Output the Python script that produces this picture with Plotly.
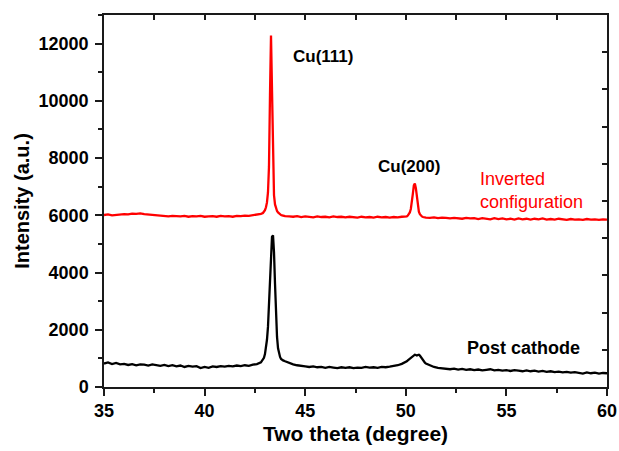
import plotly.graph_objects as go

# ---- data ----
two_theta = [
    35.0, 35.2, 35.4, 35.6, 35.8, 36.0, 36.2, 36.4, 36.6, 36.8,
    37.0, 37.2, 37.4, 37.6, 37.8, 38.0, 38.2, 38.4, 38.6, 38.8,
    39.0, 39.2, 39.4, 39.6, 39.8, 40.0, 40.2, 40.4, 40.6, 40.8,
    41.0, 41.2, 41.4, 41.6, 41.8, 42.0, 42.2, 42.4, 42.6, 42.8,
    42.9, 42.95, 43.0, 43.05, 43.1, 43.15, 43.2, 43.25, 43.3, 43.35,
    43.4, 43.45, 43.5, 43.55, 43.6, 43.65, 43.7, 43.75, 43.8, 43.85, 43.9,
    44.0, 44.2, 44.4, 44.6, 44.8, 45.0, 45.2, 45.4, 45.6, 45.8,
    46.0, 46.2, 46.4, 46.6, 46.8, 47.0, 47.2, 47.4, 47.6, 47.8,
    48.0, 48.2, 48.4, 48.6, 48.8, 49.0, 49.2, 49.4, 49.6, 49.8, 50.0,
    50.05, 50.1, 50.15, 50.2, 50.25, 50.3, 50.35, 50.4, 50.45, 50.5,
    50.55, 50.6, 50.65, 50.7, 50.75, 50.8, 50.85, 50.9, 50.95,
    51.0, 51.2, 51.4, 51.6, 51.8, 52.0, 52.2, 52.4, 52.6, 52.8,
    53.0, 53.2, 53.4, 53.6, 53.8, 54.0, 54.2, 54.4, 54.6, 54.8,
    55.0, 55.2, 55.4, 55.6, 55.8, 56.0, 56.2, 56.4, 56.6, 56.8,
    57.0, 57.2, 57.4, 57.6, 57.8, 58.0, 58.2, 58.4, 58.6, 58.8,
    59.0, 59.2, 59.4, 59.6, 59.8, 60.0,
]

inverted = [
    6010, 6030, 6000, 6020, 6030, 6040, 6030, 6060, 6050, 6070,
    6040, 6030, 6000, 5990, 5980, 5990, 5960, 5980, 5970, 5960,
    5980, 5950, 5970, 5960, 5980, 5950, 5960, 5970, 5950, 5980,
    5960, 5970, 5950, 5980, 5970, 5990, 5980, 6000, 6020, 6050,
    6080, 6120, 6180, 6280, 6450, 6800, 7700, 10200, 12280, 10400,
    7600, 6700, 6380, 6230, 6150, 6100, 6060, 6040, 6010, 6000, 5980,
    5970, 5960, 5950, 5970, 5940, 5960, 5950, 5930, 5960, 5940,
    5950, 5930, 5960, 5940, 5950, 5930, 5950, 5940, 5920, 5950,
    5930, 5940, 5920, 5950, 5930, 5940, 5920, 5940, 5930, 5950, 5950,
    5960, 5990, 6030, 6100, 6220, 6420, 6750, 7050, 7110, 6950,
    6600, 6300, 6130, 6040, 5990, 5960, 5940, 5930, 5920,
    5920, 5910, 5930, 5900, 5920, 5910, 5890, 5910, 5900, 5880,
    5910, 5890, 5900, 5870, 5900, 5880, 5860, 5900, 5870, 5890,
    5860, 5880, 5850, 5890, 5860, 5880, 5850, 5880, 5860, 5890,
    5850, 5870, 5850, 5880, 5860, 5840, 5870, 5850, 5860, 5840,
    5870, 5850, 5860, 5840, 5860, 5850,
]

post_cathode = [
    820, 860, 800, 840, 790, 810, 770, 800, 760, 790,
    780, 750, 790, 760, 740, 770, 730, 760, 720, 750,
    700, 740, 710, 730, 660, 700, 670, 720, 700, 730,
    710, 740, 720, 750, 730, 760, 740, 780, 800, 860,
    950, 1020, 1150, 1350, 1650, 2100, 2800, 3700, 4600, 5250,
    5300, 4700, 3600, 2500, 1750, 1350, 1150, 1050, 980, 950, 930,
    900, 840, 790, 760, 730, 720, 700, 720, 690, 700,
    670, 700, 680, 660, 690, 670, 690, 660, 680, 670,
    700, 680, 690, 670, 700, 690, 710, 730, 760, 810, 860,
    900, 930, 960, 1000, 1040, 1070, 1090, 1110, 1130, 1120,
    1100, 1120, 1130, 1100, 1040, 980, 930, 890, 850,
    820, 760, 700, 670, 650, 640, 620, 640, 610, 630,
    600, 620, 590, 610, 580, 600, 620, 580, 600, 570,
    590, 560, 590, 570, 550, 580, 550, 570, 540, 560,
    530, 550, 520, 540, 510, 530, 500, 520, 490, 470,
    510, 480, 500, 470, 490, 480,
]

assert len(two_theta) == len(inverted) == len(post_cathode), (
    len(two_theta), len(inverted), len(post_cathode))

x_tick_vals = [35, 40, 45, 50, 55, 60]
y_tick_vals = [0, 2000, 4000, 6000, 8000, 10000, 12000]
y_tick_text = ["0", "2000", "4000", "6000", "8000", "10000", "12000"]
x_range = [35, 60]
y_range = [0, 13000]

FONT = "Liberation Sans, Arial, sans-serif"
AX = "#1a1a1a"

fig = go.Figure()
fig.add_trace(go.Scatter(x=two_theta, y=post_cathode, mode="lines",
                         line=dict(color="black", width=2.3), showlegend=False))
fig.add_trace(go.Scatter(x=two_theta, y=inverted, mode="lines",
                         line=dict(color="#ff0000", width=2.3), showlegend=False))
# invisible trace to anchor the mirrored (top/right) axes
fig.add_trace(go.Scatter(x=[x_range[0]], y=[y_range[0]], xaxis="x2", yaxis="y2",
                         mode="markers", marker=dict(opacity=0), showlegend=False,
                         hoverinfo="skip"))

fig.update_layout(
    width=619, height=451,
    margin=dict(l=104, r=12, t=15, b=64, autoexpand=False),
    paper_bgcolor="white", plot_bgcolor="white",
    font=dict(family=FONT, color="black"),
    xaxis=dict(
        range=x_range, tickvals=x_tick_vals, ticks="outside", ticklen=7,
        tickwidth=1.5, tickcolor=AX, showline=True, linecolor=AX, linewidth=1.5,
        showgrid=False, zeroline=False, automargin=False,
        tickfont=dict(size=18, weight="bold", family=FONT),
        minor=dict(dtick=2.5, tick0=35, ticks="outside", ticklen=4,
                   tickwidth=1.5, tickcolor=AX, showgrid=False),
        title=dict(text="Two theta (degree)",
                   font=dict(size=21, weight="bold", family=FONT), standoff=6),
    ),
    yaxis=dict(
        range=y_range, tickvals=y_tick_vals, ticktext=y_tick_text,
        ticks="outside", ticklen=7, ticklabelstandoff=3,
        tickwidth=1.5, tickcolor=AX, showline=True, linecolor=AX, linewidth=1.5,
        showgrid=False, zeroline=False, automargin=False,
        tickfont=dict(size=18, weight="bold", family=FONT),
        minor=dict(dtick=1000, tick0=0, ticks="outside", ticklen=4,
                   tickwidth=1.5, tickcolor=AX, showgrid=False),
        title=dict(text="Intensity (a.u.)",
                   font=dict(size=20, weight="bold", family=FONT), standoff=4),
    ),
    xaxis2=dict(
        overlaying="x", side="top", range=x_range, dtick=2.5, tick0=35,
        ticks="inside", ticklen=5, tickwidth=1.5, tickcolor=AX,
        showticklabels=False, showline=True, linecolor=AX, linewidth=1.5,
        showgrid=False, zeroline=False, automargin=False,
    ),
    yaxis2=dict(
        overlaying="y", side="right", range=y_range, dtick=1300, tick0=0,
        ticks="inside", ticklen=5, tickwidth=1.5, tickcolor=AX,
        showticklabels=False, showline=True, linecolor=AX, linewidth=1.5,
        showgrid=False, zeroline=False, automargin=False,
    ),
)

fig.add_annotation(x=45.88, y=11550, text="Cu(111)", showarrow=False,
                   font=dict(size=17, weight="bold", family=FONT, color="black"))
fig.add_annotation(x=50.18, y=7713, text="Cu(200)", showarrow=False,
                   font=dict(size=17, weight="bold", family=FONT, color="black"))
fig.add_annotation(x=53.59, y=6875, text="Inverted<br>configuration",
                   showarrow=False, xanchor="left", align="left",
                   font=dict(size=18, family=FONT, color="#ff0000"))
fig.add_annotation(x=55.85, y=1361, text="Post cathode", showarrow=False,
                   font=dict(size=18, weight="bold", family=FONT, color="black"))

fig.write_html("out.html")
